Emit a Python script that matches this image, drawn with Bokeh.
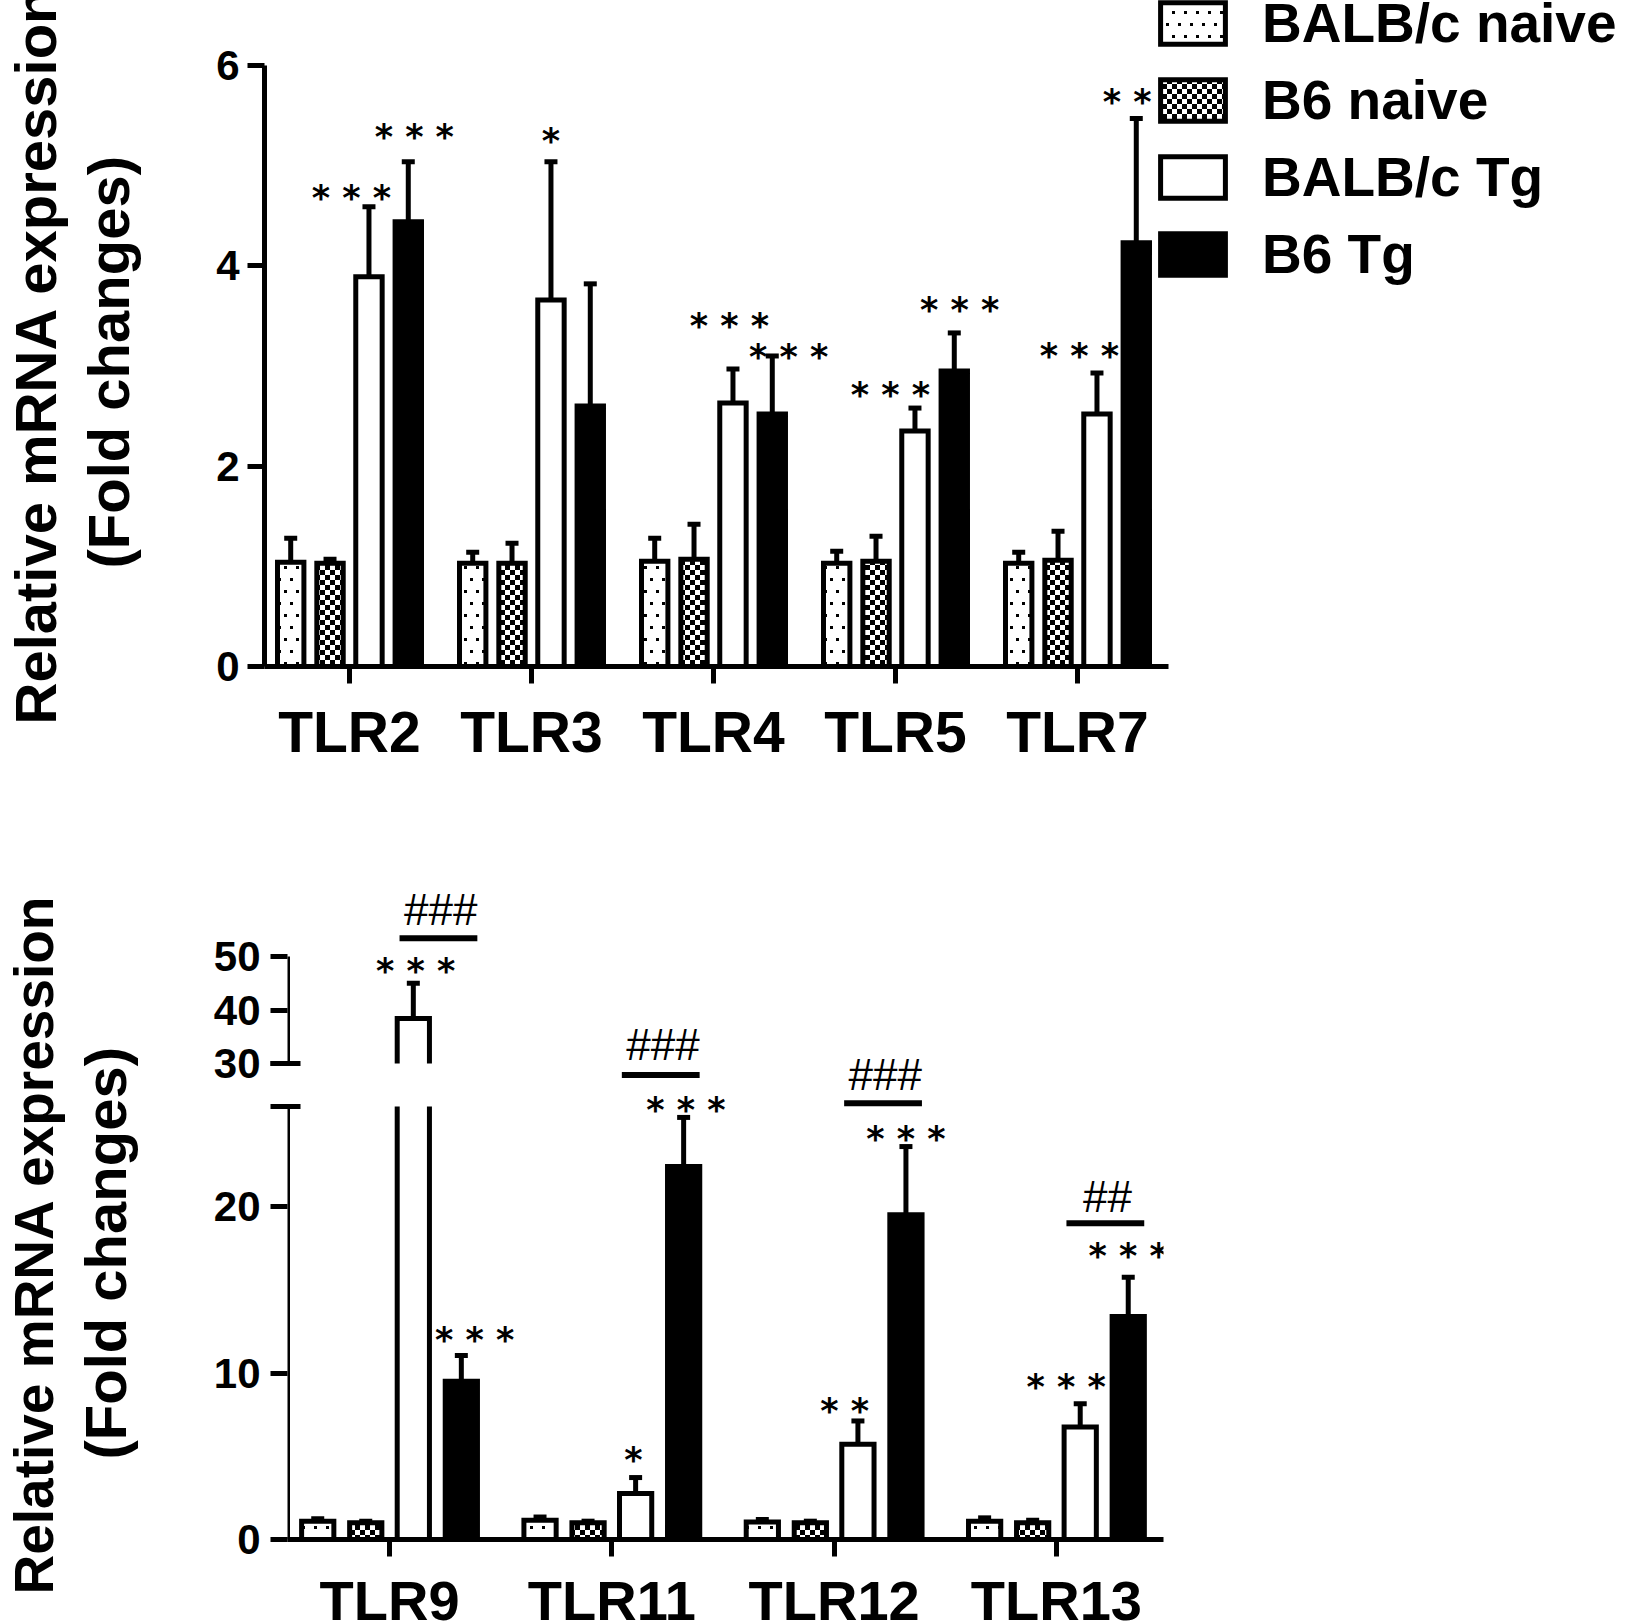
import numpy as np
from bokeh.plotting import figure
from bokeh.models import (ColumnDataSource, FixedTicker, LinearAxis, Range1d, Whisker,
                          TeeHead, Legend, LegendItem, CanvasTexture, Title)
from bokeh.embed import file_html
from bokeh.resources import INLINE
from bokeh.core.properties import value

# ------------------------------------------------------------------ data
series_names = ["BALB/c naive", "B6 naive", "BALB/c Tg", "B6 Tg"]

# upper panel
top_genes = ["TLR2", "TLR3", "TLR4", "TLR5", "TLR7"]
top_balbc_naive = [1.04, 1.03, 1.05, 1.03, 1.03]
top_b6_naive = [1.03, 1.03, 1.07, 1.05, 1.06]
top_balbc_tg = [3.89, 3.66, 2.63, 2.35, 2.52]
top_b6_tg = [4.44, 2.60, 2.52, 2.95, 4.23]
top_balbc_naive_sem = [0.24, 0.11, 0.23, 0.12, 0.11]
top_b6_naive_sem = [0.04, 0.20, 0.35, 0.25, 0.29]
top_balbc_tg_sem = [0.70, 1.38, 0.34, 0.23, 0.41]
top_b6_tg_sem = [0.60, 1.22, 0.58, 0.38, 1.24]

# significance marks, upper panel (gene index, series index, text, height of the stars)
top_sig_gene = [0, 0, 1, 2, 2, 3, 3, 4, 4]
top_sig_series = [2, 3, 2, 2, 3, 2, 3, 2, 3]
top_sig_text = ["* * *", "* * *", "*", "* * *", "* * *", "* * *", "* * *", "* * *", "* *"]
top_sig_y = [4.72, 5.32, 5.28, 3.44, 3.13, 2.75, 3.60, 3.14, 5.67]

# lower panel
bot_genes = ["TLR9", "TLR11", "TLR12", "TLR13"]
bot_balbc_naive = [1.10, 1.15, 1.05, 1.10]
bot_b6_naive = [1.00, 1.00, 1.00, 1.00]
bot_balbc_tg = [38.4, 2.77, 5.72, 6.75]
bot_b6_tg = [9.5, 22.4, 19.5, 13.4]
bot_balbc_naive_sem = [0.15, 0.20, 0.15, 0.20]
bot_b6_naive_sem = [0.10, 0.10, 0.10, 0.15]
bot_balbc_tg_sem = [6.6, 0.95, 1.40, 1.40]
bot_b6_tg_sem = [1.55, 2.95, 4.10, 2.35]

bot_sig_gene = [0, 0, 1, 1, 2, 2, 3, 3]
bot_sig_series = [2, 3, 2, 3, 2, 3, 2, 3]
bot_sig_text = ["* * *", "* * *", "*", "* * *", "* *", "* * *", "* * *", "* * *"]
bot_sig_y = [48.0, 12.2, 5.0, 26.05, 7.95, 24.3, 9.4, 17.25]

# BALB/c Tg vs B6 Tg comparisons (gene index, text, bar height, text height)
hash_gene = [0, 1, 2, 3]
hash_text = ["###", "###", "###", "##"]
hash_line_y = [53.4, 27.9, 26.2, 19.0]
hash_text_y = [58.7, 29.7, 27.9, 20.6]

# axis break of the lower panel
BREAK_LO, BREAK_HI, BREAK_TOP = 26, 30, 50

# ------------------------------------------------------------------ layout / style
FONT = "Liberation Sans"
STAR_FONT = "DejaVu Sans"
STAR_SIZE = 35
STAR_RAISE = 0.11 * STAR_SIZE      # asterisk centre sits slightly above the em-box middle
OFFSETS = [-0.323, -0.107, 0.107, 0.323]
BAR_W = 0.145
LW = 5
TITLE_1 = "Relative mRNA expression"
TITLE_2 = "(Fold changes)"

# star label horizontal nudges (category units), as placed in the original
top_sig_dx = [-0.096, 0.033, 0.0, -0.02, 0.09, -0.135, 0.03, -0.096, -0.05]
bot_sig_dx = [0.01, 0.06, -0.01, 0.01, -0.06, 0.0, -0.063, 0.0]

dots_tex = CanvasTexture(code="""
const c = ctx.canvas;
c.width = 24; c.height = 24;
ctx.fillStyle = "#000000";
ctx.fillRect(2, 2, 3, 3);
ctx.fillRect(14, 2, 3, 3);
ctx.fillRect(8, 14, 3, 3);
ctx.fillRect(20, 14, 3, 3);
""")
checker_tex = CanvasTexture(code="""
const c = ctx.canvas;
c.width = 10; c.height = 10;
ctx.fillStyle = "#000000";
ctx.fillRect(0, 0, 5, 5);
ctx.fillRect(5, 5, 5, 5);
""")
HATCH_EXTRA = {"dotgrid": dots_tex, "checker": checker_tex}

series_style = [
    dict(fill_color="white", hatch_pattern=value("dotgrid"), hatch_scale=24),
    dict(fill_color="white", hatch_pattern=value("checker"), hatch_scale=10),
    dict(fill_color="white", hatch_pattern=None),
    dict(fill_color="black", hatch_pattern=None),
]


def style_axis(ax, size):
    ax.axis_line_width = LW
    ax.axis_line_color = "black"
    ax.major_tick_line_width = LW
    ax.major_tick_line_color = "black"
    ax.minor_tick_line_width = LW
    ax.minor_tick_line_color = "black"
    ax.major_tick_out = 17
    ax.major_tick_in = 0
    ax.minor_tick_out = 0
    ax.minor_tick_in = 0
    ax.major_label_text_font = FONT
    ax.major_label_text_font_style = "bold"
    ax.major_label_text_font_size = size
    ax.major_label_text_color = "black"


def line_only_axis(ax):
    ax.axis_line_width = LW
    ax.axis_line_color = "black"
    ax.major_tick_out = 0
    ax.major_tick_in = 0
    ax.minor_tick_out = 0
    ax.minor_tick_in = 0
    ax.major_tick_line_color = None
    ax.minor_tick_line_color = None
    ax.major_label_standoff = 0
    ax.major_label_text_font_size = "1px"


def spacer_label(ax, gap):
    # transparent axis label: keeps the gap between tick labels and the titles
    ax.axis_label = "."
    ax.axis_label_text_font_size = "10px"
    ax.axis_label_text_alpha = 0
    ax.axis_label_standoff = gap


def add_titles(p, offset_1, offset_2, standoff_2, size_1):
    common = dict(align="left", vertical_align="bottom", text_font=FONT,
                  text_font_style="bold", text_color="black", text_line_height=1.0)
    p.add_layout(Title(text=TITLE_2, offset=offset_2, standoff=standoff_2,
                       text_font_size="58px", **common), "left")
    p.add_layout(Title(text=TITLE_1, offset=offset_1, standoff=0,
                       text_font_size=size_1, **common), "left")


def base_fig(fw, fh, left, right, top_b, bottom_b, xr, yr):
    p = figure(frame_width=fw, frame_height=fh, min_border_left=left, min_border_right=right,
               min_border_top=top_b, min_border_bottom=bottom_b, x_range=xr, y_range=yr,
               output_backend="svg", toolbar_location=None)
    p.xgrid.visible = False
    p.ygrid.visible = False
    p.outline_line_color = None
    p.background_fill_color = "white"
    p.border_fill_color = "white"
    return p


def text_marks(p, xs, ys, texts, font, size, style, **kw):
    p.text(x=xs, y=ys, text=texts, text_font=value(font), text_font_style=style,
           text_font_size=size, text_color="black", text_align="center",
           text_baseline="middle", **kw)


def whisker(p, src, **kw):
    p.add_layout(Whisker(source=src, base="x", lower="lower", upper="upper", dimension="height",
                         line_width=LW, line_color="black", lower_head=None,
                         upper_head=TeeHead(size=13, line_width=LW, line_color="black"), **kw))


# ------------------------------------------------------------------ upper panel
TOP_PX = 100.17                 # pixels per unit
TOP_FW, TOP_FH = 1374, 666
TOP_CAT_PX = 182
top_x0 = -0.467
pt = base_fig(TOP_FW, TOP_FH, 259, 0, 0, 114,
              Range1d(top_x0, top_x0 + TOP_FW / TOP_CAT_PX), Range1d(0, TOP_FH / TOP_PX))

top_means = [top_balbc_naive, top_b6_naive, top_balbc_tg, top_b6_tg]
top_sems = [top_balbc_naive_sem, top_b6_naive_sem, top_balbc_tg_sem, top_b6_tg_sem]
gi = np.arange(len(top_genes))
top_renderers = []
for s in range(4):
    xs = gi + OFFSETS[s]
    m = np.array(top_means[s])
    src = ColumnDataSource(dict(x=xs, top=m, lower=m, upper=m + np.array(top_sems[s])))
    whisker(pt, src)
    r = pt.vbar(x="x", top="top", bottom=0, width=BAR_W, source=src, line_color="black",
                line_width=LW, line_join="miter", hatch_color="black", hatch_extra=HATCH_EXTRA,
                **series_style[s])
    top_renderers.append(r)

sx = [top_sig_gene[i] + OFFSETS[top_sig_series[i]] + top_sig_dx[i] for i in range(len(top_sig_gene))]
sy = [v - STAR_RAISE / TOP_PX for v in top_sig_y]
text_marks(pt, sx, sy, top_sig_text, STAR_FONT, f"{STAR_SIZE}px", "bold")

yax = pt.yaxis[0]
style_axis(yax, "42px")
yax.ticker = FixedTicker(ticks=[0, 2, 4, 6])
yax.bounds = (0, 6)
yax.major_label_standoff = 8
spacer_label(yax, 56)
add_titles(pt, -58, 98, 12, "58px")

xax = pt.xaxis[0]
style_axis(xax, "57px")
xax.ticker = FixedTicker(ticks=list(range(len(top_genes))))
xax.major_label_overrides = {i: g for i, g in enumerate(top_genes)}
xax.major_label_standoff = 16
xax.bounds = (top_x0, len(top_genes) - 0.5)

legend = Legend(items=[LegendItem(label=series_names[i], renderers=[top_renderers[i]]) for i in range(4)],
                location=(888, 380), orientation="vertical", glyph_width=81, glyph_height=52,
                spacing=13, padding=0, margin=0, label_standoff=29, label_height=62,
                border_line_color=None, background_fill_alpha=0,
                label_text_font=FONT, label_text_font_style="bold", label_text_font_size="55px",
                label_text_color="black")
pt.add_layout(legend)

# ------------------------------------------------------------------ lower panel
BOT_FW, BOT_FH = 876, 653
BOT_CAT_PX = 222.3
LO_PX = 16.65                    # pixels per unit below the break
HI_PX = 5.35                     # pixels per unit above the break
BREAK_HI_PIX = 476               # height of the upper segment's start above the x axis
lo_range = Range1d(0, BOT_FH / LO_PX)
hi_start = BREAK_HI - BREAK_HI_PIX / HI_PX
hi_range = Range1d(hi_start, hi_start + BOT_FH / HI_PX)

bot_x0 = -0.459
pb = base_fig(BOT_FW, BOT_FH, 284, 473, 106, 84,
              Range1d(bot_x0, bot_x0 + BOT_FW / BOT_CAT_PX), lo_range)
pb.extra_y_ranges = {"upper": hi_range}


def upper_to_lower(v):
    frac = (v - hi_range.start) / (hi_range.end - hi_range.start)
    return round(lo_range.start + frac * (lo_range.end - lo_range.start), 4)


bot_means = [bot_balbc_naive, bot_b6_naive, bot_balbc_tg, bot_b6_tg]
bot_sems = [bot_balbc_naive_sem, bot_b6_naive_sem, bot_balbc_tg_sem, bot_b6_tg_sem]
gb = np.arange(len(bot_genes))
for s in range(4):
    xs = gb + OFFSETS[s]
    m = np.array(bot_means[s])
    up = m + np.array(bot_sems[s])
    ok = m <= BREAK_LO
    src = ColumnDataSource(dict(x=xs[ok], top=m[ok], lower=m[ok], upper=up[ok]))
    whisker(pb, src)
    pb.vbar(x="x", top="top", bottom=0, width=BAR_W, source=src, line_color="black",
            line_width=LW, line_join="miter", hatch_color="black", hatch_extra=HATCH_EXTRA,
            **series_style[s])
    # bars that cross the axis break
    for x, v, u in zip(xs[~ok], m[~ok], up[~ok]):
        xl, xr = x - BAR_W / 2, x + BAR_W / 2
        pb.segment(x0=[xl, xr], y0=[0, 0], x1=[xl, xr], y1=[BREAK_LO, BREAK_LO],
                   line_color="black", line_width=LW)
        pb.line(x=[xl, xl, xr, xr], y=[BREAK_HI, v, v, BREAK_HI], y_range_name="upper",
                line_color="black", line_width=LW, line_join="miter")
        whisker(pb, ColumnDataSource(dict(x=[x], lower=[v], upper=[u])), y_range_name="upper")

# stars
for i in range(len(bot_sig_gene)):
    g, s = bot_sig_gene[i], bot_sig_series[i]
    x = g + OFFSETS[s] + bot_sig_dx[i]
    yv = bot_sig_y[i]
    if bot_means[s][g] > BREAK_LO:
        text_marks(pb, [x], [yv - STAR_RAISE / HI_PX], [bot_sig_text[i]], STAR_FONT,
                   f"{STAR_SIZE}px", "bold", y_range_name="upper")
    else:
        text_marks(pb, [x], [yv - STAR_RAISE / LO_PX], [bot_sig_text[i]], STAR_FONT,
                   f"{STAR_SIZE}px", "bold")

# hash comparisons
for i, g in enumerate(hash_gene):
    on_upper = bot_means[2][g] > BREAK_LO
    kw = dict(y_range_name="upper") if on_upper else {}
    pb.segment(x0=[g + 0.045], y0=[hash_line_y[i]], x1=[g + 0.395], y1=[hash_line_y[i]],
               line_color="black", line_width=6, **kw)
    text_marks(pb, [g + 0.23], [hash_text_y[i]], [hash_text[i]], FONT, "44px", "normal", **kw)

# left axis: ticks and labels for both segments (its own line hidden)
upper_ticks = [30, 40, 50]
upper_pos = [upper_to_lower(v) for v in upper_ticks]
ya = pb.yaxis[0]
style_axis(ya, "42px")
ya.ticker = FixedTicker(ticks=[0, 10, 20] + upper_pos,
                        minor_ticks=[BREAK_LO, upper_to_lower(BREAK_HI)])
ya.major_label_overrides = {p_: str(v) for p_, v in zip(upper_pos, upper_ticks)}
ya.minor_tick_in = 13
ya.minor_tick_out = 17
ya.bounds = (0, upper_to_lower(BREAK_TOP))
ya.axis_line_color = None
ya.major_label_standoff = 10
spacer_label(ya, 56)

# the two axis segments
seg_lo = LinearAxis(fixed_location=bot_x0, bounds=(0, BREAK_LO), ticker=FixedTicker(ticks=[]))
line_only_axis(seg_lo)
pb.add_layout(seg_lo, "left")
seg_hi = LinearAxis(y_range_name="upper", fixed_location=bot_x0, bounds=(BREAK_HI, BREAK_TOP),
                    ticker=FixedTicker(ticks=[]))
line_only_axis(seg_hi)
pb.add_layout(seg_hi, "left")
add_titles(pb, -55, 80, 12, "55px")

xb = pb.xaxis[0]
style_axis(xb, "56px")
xb.ticker = FixedTicker(ticks=list(range(len(bot_genes))))
xb.major_label_overrides = {i: g for i, g in enumerate(bot_genes)}
xb.major_label_standoff = 12

open("out.html", "w").write(file_html([pt, pb], INLINE))
